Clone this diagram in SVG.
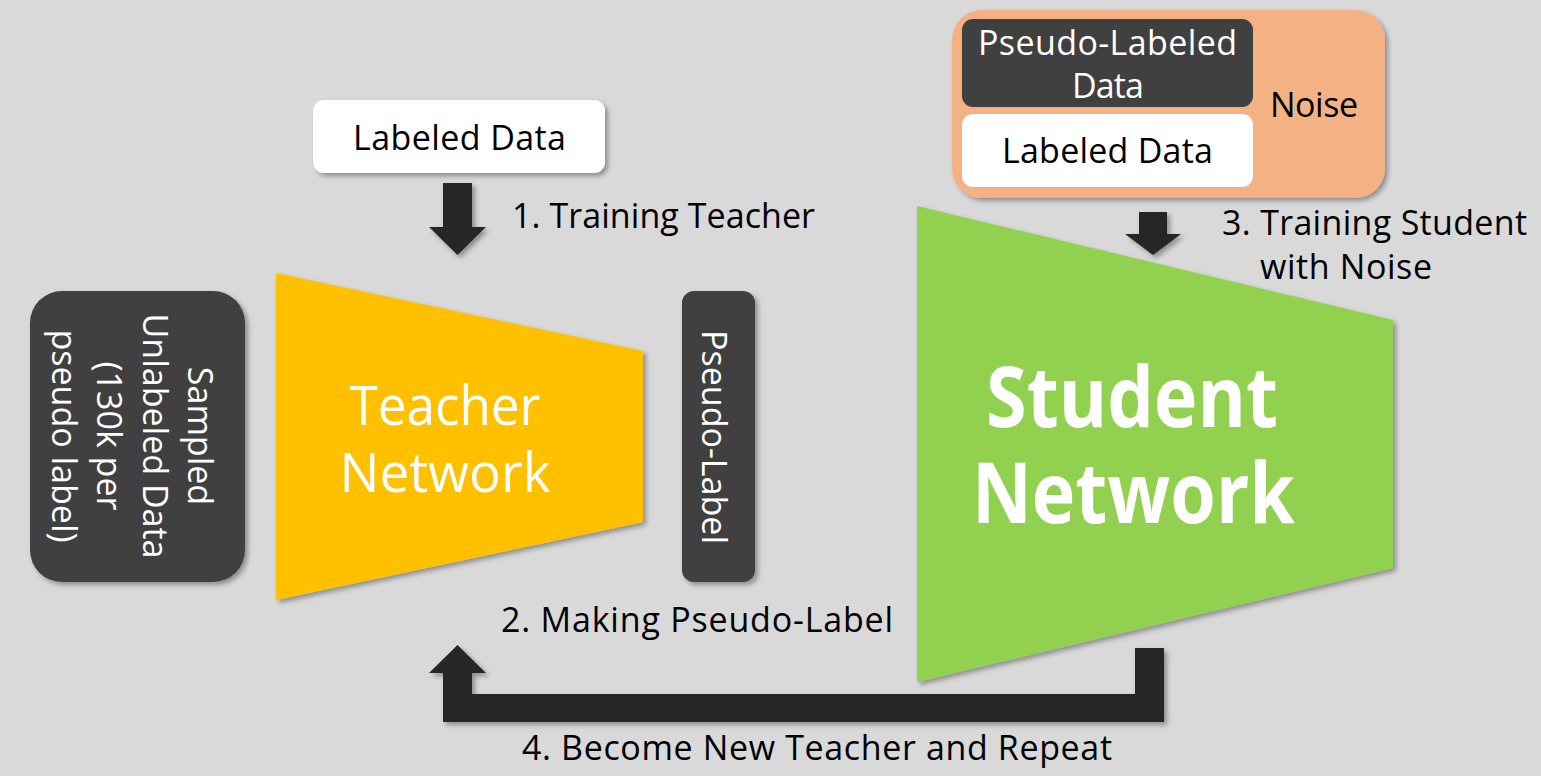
<svg xmlns="http://www.w3.org/2000/svg" width="1541" height="776" viewBox="0 0 1541 776">
<style>
.t{font-family:"Open Sans","Noto Sans","DejaVu Sans",sans-serif;font-size:34px;fill:#000}
.w{fill:#fff}
.dark{fill:#404040}
.arrow{fill:#262626}
</style>
<defs>
<filter id="sh" x="-20%" y="-20%" width="140%" height="140%">
<feDropShadow dx="3" dy="3" stdDeviation="2.5" flood-color="#000" flood-opacity="0.35"/>
</filter>
</defs>
<rect width="1541" height="776" fill="#d9d9d9"/>
<g id="sampled">
<rect x="30" y="291" width="215" height="291" rx="32" class="dark" filter="url(#sh)"/>
<g class="t w" text-anchor="middle">
<text transform="translate(188,436) rotate(90)">Sampled</text>
<text transform="translate(143,436) rotate(90)">Unlabeled Data</text>
<text transform="translate(97,436) rotate(90)">(130k per</text>
<text transform="translate(52,436) rotate(90)">pseudo label)</text>
</g>
</g>
<g id="teacher">
<polygon points="276,273 643,351 643,522 276,600" fill="#ffc000" filter="url(#sh)"/>
<text class="t w" style="font-size:55px" x="445" y="425" text-anchor="middle" textLength="191" lengthAdjust="spacingAndGlyphs">Teacher</text>
<text class="t w" style="font-size:55px" x="445" y="492" text-anchor="middle" textLength="211" lengthAdjust="spacingAndGlyphs">Network</text>
</g>
<g id="labeled-top">
<rect x="313" y="100" width="292" height="73" rx="11" fill="#fff" filter="url(#sh)"/>
<text class="t" x="353" y="150" textLength="213">Labeled Data</text>
</g>
<g id="pseudo-label">
<rect x="682" y="291" width="73" height="291" rx="12" class="dark" filter="url(#sh)"/>
<text class="t w" transform="translate(702,437) rotate(90)" text-anchor="middle">Pseudo-Label</text>
</g>
<g id="noise-group">
<rect x="952" y="10" width="433" height="188" rx="30" fill="#f4b183" filter="url(#sh)"/>
<rect x="962" y="19" width="291" height="88" rx="11" class="dark"/>
<rect x="962" y="114" width="291" height="73" rx="11" fill="#fff"/>
<text class="t w" x="978" y="55" textLength="259">Pseudo-Labeled</text>
<text class="t w" x="1072" y="98" textLength="72">Data</text>
<text class="t" x="1002" y="163" textLength="211">Labeled Data</text>
<text class="t" x="1270" y="117" textLength="88">Noise</text>
</g>
<g id="student">
<polygon points="917,206 1393,320 1393,568 917,682" fill="#92d050" filter="url(#sh)"/>
<text class="t w" style="font-size:84px;font-weight:700" x="986" y="427" textLength="292" lengthAdjust="spacingAndGlyphs">Student</text>
<text class="t w" style="font-size:84px;font-weight:700" x="972" y="523" textLength="323" lengthAdjust="spacingAndGlyphs">Network</text>
</g>
<g id="connectors">
<path class="arrow" filter="url(#sh)" d="M443,183 H472 V227 H486 L457.5,255 L429,227 H443 Z"/>
<path class="arrow" filter="url(#sh)" d="M1139,212 H1167 V234 H1181 L1153,255 L1125,234 H1139 Z"/>
<path class="arrow" filter="url(#sh)" d="M1135,648 H1164 V722 H443 V673 H429 L457.5,645 L486,673 H472 V694 H1135 Z"/>
</g>
<g id="labels">
<text class="t" x="512" y="228" textLength="303">1. Training Teacher</text>
<text class="t" x="501" y="632" textLength="392">2. Making Pseudo-Label</text>
<text class="t" x="1222" y="235" textLength="305">3. Training Student</text>
<text class="t" x="1260" y="279" textLength="172">with Noise</text>
<text class="t" x="522" y="760" textLength="590">4. Become New Teacher and Repeat</text>
</g>
</svg>
